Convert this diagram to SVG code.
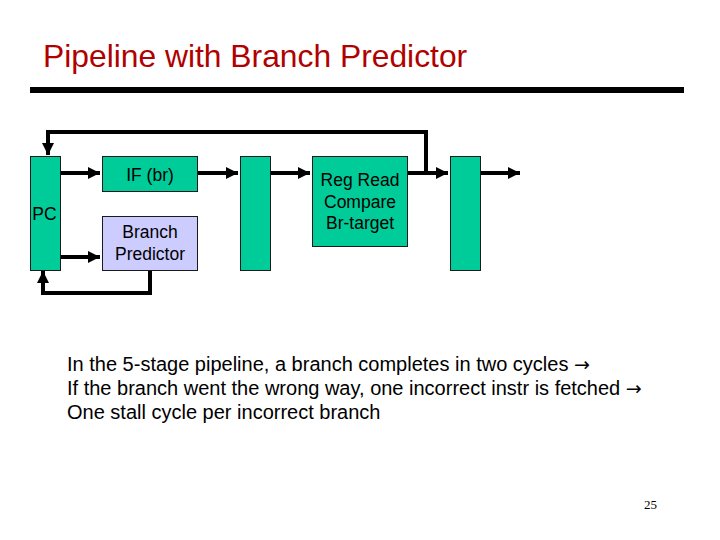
<svg xmlns="http://www.w3.org/2000/svg" width="720" height="540" viewBox="0 0 720 540">
<defs>
<marker id="ah" viewBox="0 0 10 10" refX="10" refY="5" markerWidth="3" markerHeight="3" orient="auto" markerUnits="strokeWidth">
<path d="M0,0 L10,5 L0,10 z" fill="#000"/>
</marker>
<style>
.stage{fill:#00CC99;stroke:#1a1a1a;stroke-width:1}
.pred{fill:#CCCCFF;stroke:#1a1a1a;stroke-width:1}
.lbl{font-family:"Liberation Sans",Arial,sans-serif;font-size:17.5px;fill:#000;text-anchor:middle}
.wire{fill:none;stroke:#000;stroke-width:4}
.body{font-family:"Liberation Sans",Arial,sans-serif;font-size:20px;fill:#000}
.arr{font-family:"DejaVu Sans",sans-serif;font-size:19px}
</style>
</defs>
<rect width="720" height="540" fill="#fff"/>
<text x="43" y="67" font-family="'Liberation Sans',Arial,sans-serif" font-size="31.8" fill="#B00000">Pipeline with Branch Predictor</text>
<rect x="30" y="87" width="654" height="6" fill="#000"/>

<g id="connectors">
<path class="wire" d="M61,173 H100" marker-end="url(#ah)"/>
<path class="wire" d="M61,257 H100" marker-end="url(#ah)"/>
<path class="wire" d="M197,173 H238" marker-end="url(#ah)"/>
<path class="wire" d="M271,173 H310" marker-end="url(#ah)"/>
<path class="wire" d="M408,173 H448" marker-end="url(#ah)"/>
<path class="wire" d="M480,173 H520" marker-end="url(#ah)"/>
<path class="wire" d="M426,173 V132 H48 V155" marker-end="url(#ah)"/>
<path class="wire" d="M150,270 V293 H43 V271" marker-end="url(#ah)"/>
</g>

<g id="pc">
<rect class="stage" x="30.5" y="156.5" width="30" height="114"/>
<text class="lbl" x="44.5" y="220">PC</text>
</g>
<g id="if">
<rect class="stage" x="102.5" y="156.5" width="95" height="35"/>
<text class="lbl" x="150" y="181">IF (br)</text>
</g>
<g id="bp">
<rect class="pred" x="102.5" y="216.5" width="95" height="54"/>
<text class="lbl" x="150" y="238">Branch</text>
<text class="lbl" x="150" y="260">Predictor</text>
</g>
<g id="latch1">
<rect class="stage" x="240.5" y="156.5" width="30" height="114"/>
</g>
<g id="regread">
<rect class="stage" x="312.5" y="156.5" width="95" height="90"/>
<text class="lbl" x="360" y="186">Reg Read</text>
<text class="lbl" x="360" y="208">Compare</text>
<text class="lbl" x="360" y="229">Br-target</text>
</g>
<g id="latch2">
<rect class="stage" x="450.5" y="156.5" width="30" height="114"/>
</g>

<text class="body" x="67" y="371">In the 5-stage pipeline, a branch completes in two cycles <tspan class="arr">→</tspan></text>
<text class="body" x="67" y="395">If the branch went the wrong way, one incorrect instr is fetched <tspan class="arr">→</tspan></text>
<text class="body" x="67" y="419">One stall cycle per incorrect branch</text>
<text x="644" y="509" font-family="'Liberation Serif','Times New Roman',serif" font-size="13" fill="#000">25</text>
</svg>
